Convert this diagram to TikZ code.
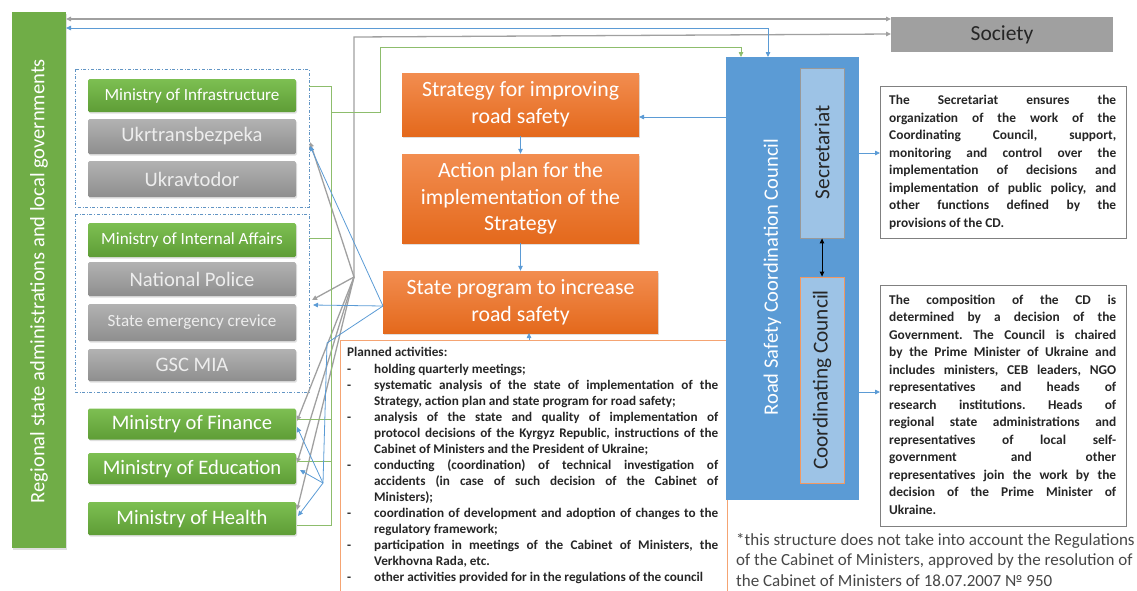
\documentclass[tikz,border=0pt]{standalone}
\usepackage{fontspec}
\setmainfont{Carlito}
\usetikzlibrary{arrows.meta,shadows}
\definecolor{cgreen}{HTML}{70AD47}
\definecolor{cgreenT}{HTML}{7DBF52}
\definecolor{cgreenB}{HTML}{5E9D36}
\definecolor{cgrayT}{HTML}{B2B2B2}
\definecolor{cgrayB}{HTML}{8E8E8E}
\definecolor{corT}{HTML}{F28D50}
\definecolor{corB}{HTML}{E4691C}
\definecolor{cblue}{HTML}{5B9BD5}
\definecolor{clblue}{HTML}{9DC3E6}
\definecolor{cline}{HTML}{A0A0A0}
\definecolor{ctext}{HTML}{262626}
\frenchspacing
\newcommand\plitem{\par\hangindent=27pt\hangafter=1\noindent\makebox[27pt][l]{-}}
\begin{document}
\begin{tikzpicture}[x=1pt,y=-1pt,
  tip/.style={-{Triangle[length=5pt,width=4.5pt]}},
  tips/.style={{Triangle[length=5pt,width=4.5pt]}-{Triangle[length=5pt,width=4.5pt]}},
  gbox/.style={rounded corners=1.5pt, top color=cgreenT, bottom color=cgreenB, text=white, drop shadow={opacity=0.25,shadow xshift=1pt,shadow yshift=-1.5pt}},
  graybox/.style={rounded corners=1.5pt, top color=cgrayT, bottom color=cgrayB, text=white!93!black, drop shadow={opacity=0.25,shadow xshift=1pt,shadow yshift=-1.5pt}},
  obox/.style={top color=corT, bottom color=corB, text=white, align=center, font=\fontsize{21.8}{26.5}\selectfont, drop shadow={opacity=0.25,shadow xshift=1pt,shadow yshift=-1.5pt}},
  frame/.style={draw=cblue!80!gray, dash dot, line width=0.6pt},
  gl/.style={draw=cline, line width=1.3pt},
  bl/.style={draw=cblue, line width=0.8pt},
  grl/.style={draw=cgreen!80, line width=0.8pt},
  txtbox/.style={draw=gray, line width=0.8pt, fill=white},
  big/.style={font=\fontsize{20.6}{24}\selectfont},
  small/.style={font=\fontsize{17.1}{20}\selectfont},
  desc/.style={anchor=north west, inner sep=0, text width=227pt, align=justify, text=ctext, font=\bfseries\fontsize{13.4}{17.5}\selectfont},
]
\useasboundingbox (0,0) rectangle (1137,590);

% left bar
\node[fill=cgreen, minimum width=54pt, minimum height=536pt, inner sep=0, drop shadow={opacity=0.25,shadow xshift=1pt,shadow yshift=-1.5pt}] (bar) at (39,280) {};
\node[rotate=90, text=white, font=\fontsize{20.5}{24}\selectfont] (bartxt) at (39,281) {Regional state administrations and local governments};

% frames
\draw[frame] (75,69) rectangle (309,207);
\draw[frame] (75,214) rectangle (309,392);

% left column boxes
\node[gbox, minimum width=208pt, minimum height=33pt, small] (infra) at (192,95.5) {Ministry of Infrastructure};
\node[graybox, minimum width=208pt, minimum height=35pt, big] (ukrt) at (192,136.5) {Ukrtransbezpeka};
\node[graybox, minimum width=208pt, minimum height=36pt, big] (ukra) at (192,179) {Ukravtodor};
\node[gbox, minimum width=208pt, minimum height=34pt, small] (mia) at (192,240) {Ministry of Internal Affairs};
\node[graybox, minimum width=208pt, minimum height=34pt, big] (police) at (192,279) {National Police};
\node[graybox, minimum width=208pt, minimum height=37pt, small] (ses) at (192,322.5) {State emergency crevice};
\node[graybox, minimum width=208pt, minimum height=32pt, big] (gsc) at (192,365) {GSC MIA};
\node[gbox, minimum width=208pt, minimum height=31pt, big] (fin) at (192,424) {Ministry of Finance};
\node[gbox, minimum width=208pt, minimum height=31pt, big] (edu) at (192,468.5) {Ministry of Education};
\node[gbox, minimum width=208pt, minimum height=33pt, big] (health) at (192,518.5) {Ministry of Health};

% orange boxes
\node[obox, minimum width=237pt, minimum height=63pt] (strat) at (520.5,104.5) {Strategy for improving\\road safety};
\node[obox, minimum width=237pt, minimum height=89pt] (action) at (520.5,198.5) {Action plan for the\\implementation of the\\Strategy};
\node[obox, minimum width=275pt, minimum height=62pt] (prog) at (520.5,302) {State program to increase\\road safety};

% planned activities
\draw[draw=corT!80, line width=0.8pt] (340,595) -- (340,340) -- (727,340) -- (727,595);
\coordinate (pltop) at (529,340);
\node[anchor=north west, inner sep=0, text width=371pt, align=justify, text=ctext, font=\bfseries\fontsize{13.2}{16.07}\selectfont] (plan) at (347,347.5) {%
Planned activities:
\plitem holding quarterly meetings;
\plitem systematic analysis of the state of implementation of the\linebreak Strategy, action plan and state program for road safety;
\plitem analysis of the state and quality of implementation of\linebreak protocol decisions of the Kyrgyz Republic, instructions of the\linebreak Cabinet of Ministers and the President of Ukraine;
\plitem conducting (coordination) of technical investigation of\linebreak accidents (in case of such decision of the Cabinet of\linebreak Ministers);
\plitem coordination of development and adoption of changes to the\linebreak regulatory framework;
\plitem participation in meetings of the Cabinet of Ministers, the\linebreak Verkhovna Rada, etc.
\plitem other activities provided for in the regulations of the council\par};

% council
\node[fill=cblue, minimum width=133pt, minimum height=443pt, inner sep=0] (council) at (792.5,278.5) {};
\node[rotate=90, text=white, font=\fontsize{20.5}{24}\selectfont] (counciltxt) at (772.5,277) {Road Safety Coordination Council};
\node[fill=clblue, draw=gray!80, line width=0.8pt, minimum width=44pt, minimum height=170pt, inner sep=0] (secr) at (822,153) {};
\node[rotate=90, text=ctext, font=\fontsize{21.3}{24}\selectfont] at (822,152.5) {Secretariat};
\node[fill=clblue, draw=corT!90, line width=0.8pt, minimum width=44pt, minimum height=206pt, inner sep=0] (cc) at (822,380) {};
\node[rotate=90, text=ctext, font=\fontsize{21.3}{24}\selectfont] at (822,380) {Coordinating Council};

% society
\node[fill=cgrayT!90!black, minimum width=222pt, minimum height=35pt, inner sep=0, text=ctext, font=\fontsize{21.5}{24}\selectfont] (soc) at (1002,34.5) {Society};

% text boxes
\node[txtbox, minimum width=246pt, minimum height=152pt] (tb1) at (1003,162) {};
\node[desc] at (889,95) {The Secretariat ensures the\linebreak organization of the work of the\linebreak Coordinating Council, support,\linebreak monitoring and control over the\linebreak implementation of decisions and\linebreak implementation of public policy, and\linebreak other functions defined by the\linebreak provisions of the CD.\par};
\node[txtbox, minimum width=246pt, minimum height=241pt] (tb2) at (1003,405.5) {};
\node[desc] at (889,294.5) {The composition of the CD is\linebreak determined by a decision of the\linebreak Government. The Council is chaired\linebreak by the Prime Minister of Ukraine and\linebreak includes ministers, CEB leaders, NGO\linebreak representatives and heads of\linebreak research institutions. Heads of\linebreak regional state administrations and\linebreak representatives of local self-\linebreak government and other\linebreak representatives join the work by the\linebreak decision of the Prime Minister of\linebreak Ukraine.\par};

% footnote
\node[anchor=north west, inner sep=0, align=left, text=ctext!85, font=\fontsize{17}{20.5}\selectfont] (foot) at (736,533) {*this structure does not take into account the Regulations\\of the Cabinet of Ministers, approved by the resolution of\\the Cabinet of Ministers of 18.07.2007 № 950};

% ---------- connectors ----------
\coordinate (g1a) at (66,19);
\coordinate (g1b) at (891,19);
\draw[gl, tips] (g1a) -- (g1b);
\coordinate (J) at (354,277);
\coordinate (Jtop) at (354,37);
\coordinate (socin) at (891,34);
\draw[gl, tip] (J) -- (Jtop) -- (socin);
\coordinate (ukrtin) at (310,142);
\coordinate (polin) at (312,300);
\coordinate (finG) at (297,421);
\coordinate (eduG) at (297,463);
\coordinate (heaG) at (297,510);
\draw[gl, tip] (J) -- (ukrtin);
\draw[gl, tip] (J) -- (polin);
\draw[gl, tip] (J) -- (finG);
\draw[gl, tip] (J) -- (eduG);
\draw[gl, tip] (J) -- (heaG);

% green
\coordinate (gr0) at (309,86);
\coordinate (gr1) at (331,86);
\coordinate (gr2) at (331,525);
\coordinate (gr3) at (297,525);
\draw[grl] (gr0) -- (gr1) -- (gr2) -- (gr3);
\coordinate (gmia) at (309,238);
\coordinate (gmia2) at (331,238);
\draw[grl] (gmia) -- (gmia2);
\coordinate (gfin) at (297,419);
\coordinate (gfin2) at (331,419);
\draw[grl] (gfin) -- (gfin2);
\coordinate (gedu) at (297,461);
\coordinate (gedu2) at (331,461);
\draw[grl] (gedu) -- (gedu2);
\coordinate (gt0) at (331,112);
\coordinate (gt1) at (380,112);
\coordinate (gt2) at (380,47);
\coordinate (gt3) at (741,47);
\coordinate (gt4) at (741,57);
\draw[grl, tip] (gt0) -- (gt1) -- (gt2) -- (gt3) -- (gt4);

% blue
\coordinate (b0) at (768,28);
\coordinate (b1) at (66,28);
\coordinate (b2) at (768,57);
\draw[bl, tips] (b1) -- (b0) -- (b2);
\coordinate (cs0) at (726,117);
\coordinate (cs1) at (639,117);
\draw[bl, tip] (cs0) -- (cs1);
\draw[bl, tip] (strat.south) -- (action.north);
\draw[bl, tip] (action.south) -- (prog.north);
\coordinate (plprog) at (529,333);
\draw[bl, tip] (pltop) -- (plprog);
\coordinate (p1) at (383,306);
\coordinate (ukrtB) at (310,146);
\coordinate (polB) at (313,305);
\draw[bl, tip] (p1) -- (ukrtB);
\draw[bl, tip] (p1) -- (polB);
\coordinate (K0) at (327,343);
\coordinate (K) at (323,483);
\draw[bl] (p1) -- (K0) -- (K);
\coordinate (finB) at (297,427);
\coordinate (eduB) at (300,470);
\coordinate (heaB) at (298,516);
\draw[bl, tip] (K) -- (finB);
\draw[bl, tip] (K) -- (eduB);
\draw[bl, tip] (K) -- (heaB);
\coordinate (t1a) at (859,153);
\coordinate (t1b) at (880,153);
\draw[bl, tip] (t1a) -- (t1b);
\coordinate (t2a) at (859,392);
\coordinate (t2b) at (880,392);
\draw[bl, tip] (t2a) -- (t2b);
\draw[line width=1pt, tips] (secr.south) -- (cc.north);
\end{tikzpicture}
\end{document}
